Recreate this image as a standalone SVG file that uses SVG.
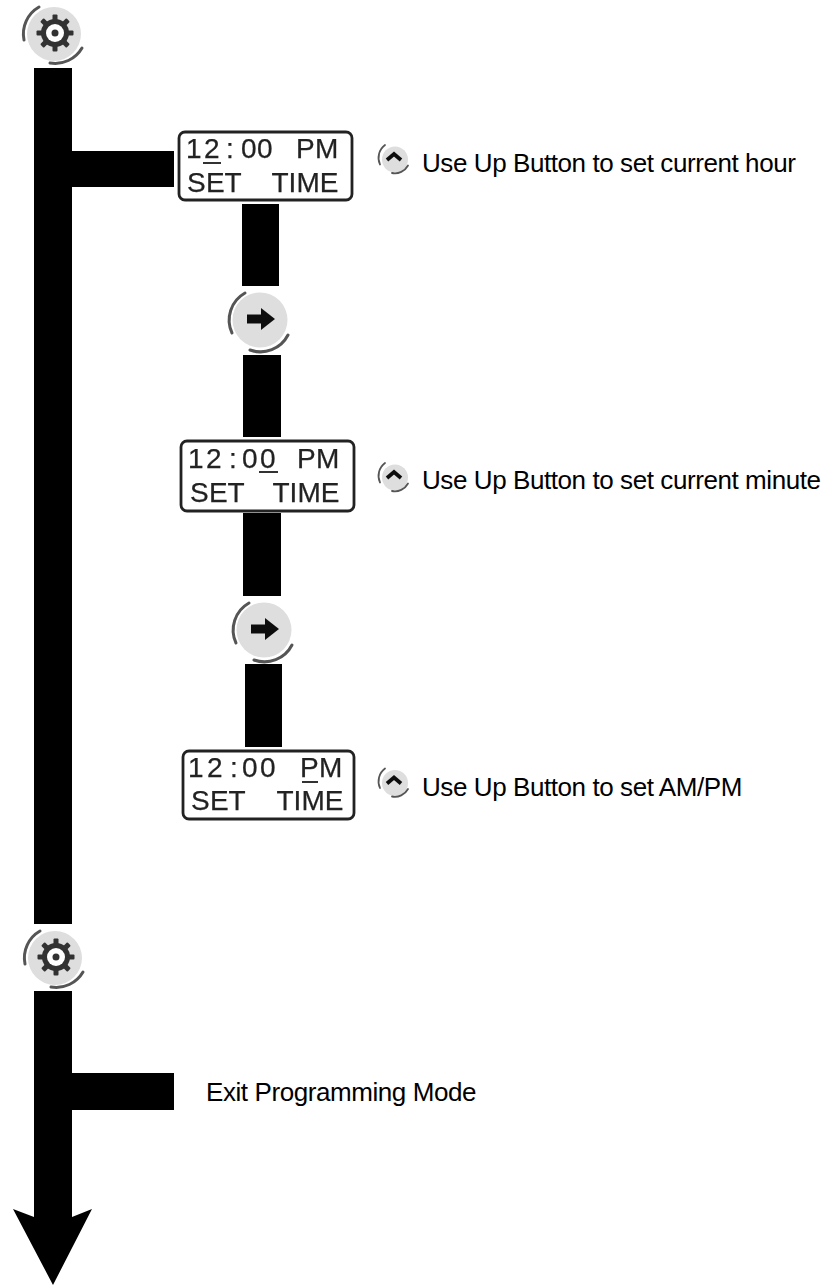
<svg xmlns="http://www.w3.org/2000/svg" width="825" height="1285" viewBox="0 0 825 1285">
<style>
text{font-family:"Liberation Sans",Arial,sans-serif;fill:#000}
.lbl{font-size:26px;letter-spacing:-0.42px}
.lcd{font-size:28px;fill:#222;stroke:#222;stroke-width:0.25}
.box{fill:#fff;stroke:#222;stroke-width:2.8}
.u{fill:#333}
.face{fill:#dedede}
.arc{fill:none;stroke:#555;stroke-width:3;stroke-linecap:round}
.thin{stroke-width:1.8}
.soft{filter:url(#soft)}
</style>
<defs>
<filter id="soft" x="-10%" y="-10%" width="120%" height="120%"><feGaussianBlur stdDeviation="0.55"/></filter>
<g id="gearBtn">
<circle class="face" r="27"/>
<path class="arc" d="M-15-27A31 31 0 0 0-30 6"/>
<path class="arc" d="M28 14A31 31 0 0 1-4 29"/>
<g transform="translate(1 -1)">
<circle r="14" fill="#333"/>
<g fill="#333"><rect x="-2.5" y="-18.5" width="5" height="37" rx="1"/><rect x="-2.5" y="-18.5" width="5" height="37" rx="1" transform="rotate(45)"/><rect x="-2.5" y="-18.5" width="5" height="37" rx="1" transform="rotate(90)"/><rect x="-2.5" y="-18.5" width="5" height="37" rx="1" transform="rotate(135)"/></g>
<circle r="9" fill="#fff"/><circle r="3.5" fill="#333"/>
</g>
</g>
<g id="nextBtn">
<circle class="face" r="27.5"/>
<path class="arc" d="M-15-27A31 31 0 0 0-28 13"/>
<path class="arc" d="M28 15A31 31 0 0 1-10 30"/>
<path d="M-13-5.5H1V-12L15-1 1 10V3.500H-13Z" fill="#111"/>
</g>
<g id="upBtn">
<circle class="face" r="13"/>
<path class="arc thin" d="M-10-14.5A16 16 0 0 0-15 5"/>
<path class="arc thin" d="M13 6A15 15 0 0 1-3 13.500"/>
<path d="M-8 0.500-1-5.500 6 0.500" fill="none" stroke="#111" stroke-width="3.800"/>
</g>
</defs>
<g id="connectors" fill="#000">
<rect x="34" y="68" width="38" height="856"/>
<rect x="72" y="151" width="102" height="36"/>
<rect x="242" y="204" width="37" height="82"/>
<rect x="243" y="355" width="38" height="82"/>
<rect x="243" y="513" width="38" height="83"/>
<rect x="245" y="664" width="37" height="83"/>
<path d="M34 991H72V1217L92 1209 53 1285 13 1209 34 1217Z"/>
<rect x="72" y="1073" width="102" height="37"/>
</g>
<g id="gear1" class="soft"><use href="#gearBtn" x="54" y="34"/></g>
<g id="gear2" class="soft"><use href="#gearBtn" x="55" y="958"/></g>
<g id="next1" class="soft"><use href="#nextBtn" x="260" y="320"/></g>
<g id="next2" class="soft"><use href="#nextBtn" x="264" y="630"/></g>
<g id="display1" class="soft">
<rect class="box" x="179" y="132" width="173" height="68" rx="6"/>
<text class="lcd" x="186 204 226 241 257 288 296 315" y="158">12:00 PM</text>
<rect class="u" x="203" y="162" width="18" height="2"/>
<text class="lcd" x="187 206 224.500 249 271.500 288.600 296.400 319.700" y="192">SET TIME</text>
</g>
<g id="display2" class="soft">
<rect class="box" x="181" y="441" width="173" height="70" rx="6"/>
<text class="lcd" x="188 206 229 242 260 289 297 316" y="468">12:00 PM</text>
<rect class="u" x="259" y="471" width="19" height="2"/>
<text class="lcd" x="190 209 227.500 252 272.500 289.600 297.400 320.700" y="502">SET TIME</text>
</g>
<g id="display3" class="soft">
<rect class="box" x="183" y="751" width="171" height="68" rx="6"/>
<text class="lcd" x="188 207 230 242 260 292 300 319" y="777">12:00 PM</text>
<rect class="u" x="302" y="781" width="16" height="2"/>
<text class="lcd" x="191 210 228.500 253 276.500 293.600 301.400 324.700" y="810">SET TIME</text>
</g>
<g id="label1"><use class="soft" href="#upBtn" x="395" y="159.500"/><text class="lbl" x="422" y="172">Use Up Button to set current hour</text></g>
<g id="label2"><use class="soft" href="#upBtn" x="395" y="477.500"/><text class="lbl" x="422" y="489">Use Up Button to set current minute</text></g>
<g id="label3"><use class="soft" href="#upBtn" x="395" y="783"/><text class="lbl" x="422" y="796">Use Up Button to set AM/PM</text></g>
<g id="label4"><text class="lbl" x="206" y="1101">Exit Programming Mode</text></g>
</svg>
